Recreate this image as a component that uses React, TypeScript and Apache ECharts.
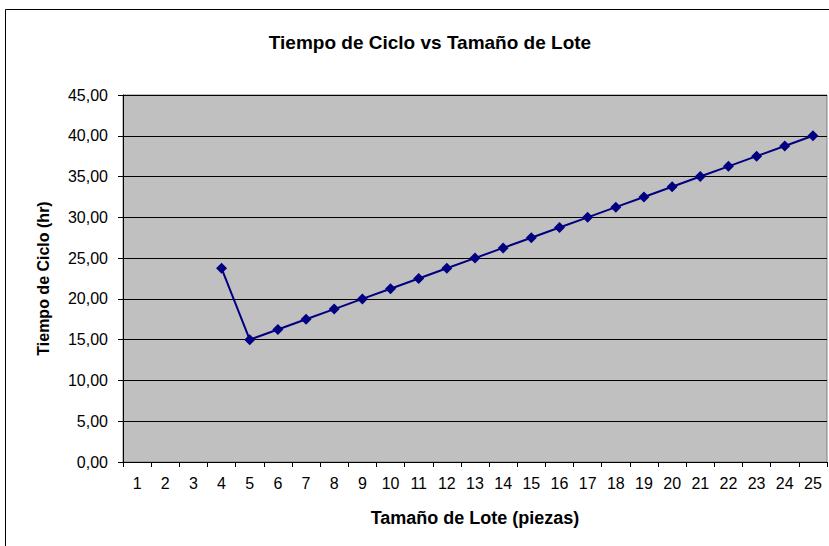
import React, { useEffect, useRef } from "react";
import * as echarts from "echarts";

const categories = ["1","2","3","4","5","6","7","8","9","10","11","12","13","14","15","16","17","18","19","20","21","22","23","24","25"];
const cycleTime: (number | null)[] = [null, null, null, 23.75, 15.0, 16.25, 17.5, 18.75, 20.0, 21.25, 22.5, 23.75, 25.0, 26.25, 27.5, 28.75, 30.0, 31.25, 32.5, 33.75, 35.0, 36.25, 37.5, 38.75, 40.0];
const titleText = "Tiempo de Ciclo vs Tamaño de Lote";
const xName = "Tamaño de Lote (piezas)";
const yName = "Tiempo de Ciclo (hr)";

const FONT = "'Liberation Sans', Arial, sans-serif";

export default function App() {
  const ref = useRef<HTMLDivElement>(null);
  useEffect(() => {
    if (!ref.current) return;
    const chart = echarts.init(ref.current, null, { renderer: "svg" });
    chart.setOption({
      animation: false,
      backgroundColor: "#ffffff",
      title: {
        text: titleText,
        left: 425,
        textAlign: "center",
        top: 28,
        textStyle: { fontFamily: FONT, fontSize: 19, fontWeight: "bold", color: "#000" },
      },
      graphic: [
        {
          type: "rect",
          shape: { x: 5.5, y: 9.5, width: 900, height: 700 },
          style: { fill: "none", stroke: "#000", lineWidth: 1 },
          silent: true,
          z: -10,
        },
      ],
      grid: {
        left: 123,
        right: 2,
        top: 95,
        bottom: 84,
        show: true,
        backgroundColor: "#C0C0C0",
        borderColor: "#808080",
        borderWidth: 1,
      },
      xAxis: {
        type: "category",
        data: categories,
        boundaryGap: true,
        name: xName,
        nameLocation: "middle",
        nameGap: 47,
        nameTextStyle: { fontFamily: FONT, fontSize: 18, fontWeight: "bold", color: "#000" },
        axisLine: { show: true, lineStyle: { color: "#000", width: 1 } },
        axisTick: { show: true, length: 5, alignWithLabel: false, lineStyle: { color: "#000" } },
        axisLabel: { fontFamily: FONT, fontSize: 16, color: "#000", margin: 13, interval: 0 },
        splitLine: { show: false },
      },
      yAxis: {
        type: "value",
        min: 0,
        max: 45,
        interval: 5,
        name: yName,
        nameLocation: "middle",
        nameGap: 72,
        nameRotate: 90,
        nameTextStyle: { fontFamily: FONT, fontSize: 16, fontWeight: "bold", color: "#000" },
        axisLine: { show: true, lineStyle: { color: "#000", width: 1 } },
        axisTick: { show: true, length: 5, lineStyle: { color: "#000" } },
        axisLabel: {
          fontFamily: FONT,
          fontSize: 16,
          color: "#000",
          margin: 15,
          formatter: (v: number) => v.toFixed(2).replace(".", ","),
        },
        splitLine: { show: true, lineStyle: { color: "#000", width: 1 } },
      },
      series: [
        {
          type: "line",
          data: cycleTime,
          connectNulls: false,
          symbol: "diamond",
          symbolSize: 11,
          showSymbol: true,
          itemStyle: { color: "#000080" },
          lineStyle: { color: "#000080", width: 2 },
        },
      ],
    });
    return () => chart.dispose();
  }, []);
  return (
    <div
      ref={ref}
      style={{ position: "absolute", left: 0, top: 0, width: 829, height: 546 }}
    />
  );
}
